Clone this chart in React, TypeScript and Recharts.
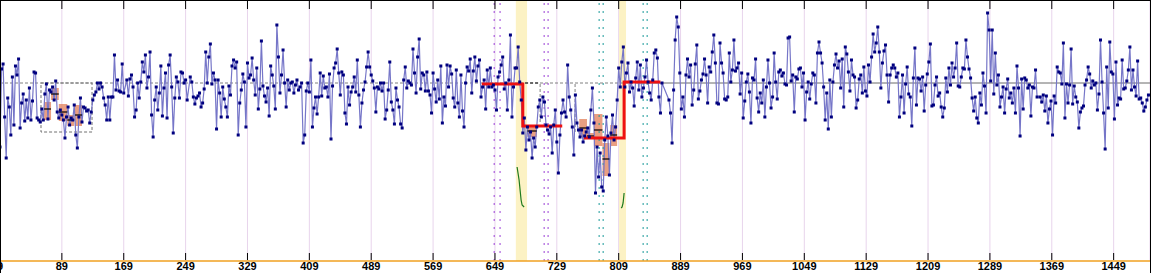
import React from 'react';
import { ComposedChart, Line, XAxis, YAxis, CartesianGrid, ReferenceArea, ReferenceLine } from 'recharts';

// x axis ticks (index numbers printed under the chart)
const tickValues = [9, 89, 169, 249, 329, 409, 489, 569, 649, 729, 809, 889, 969, 1049, 1129, 1209, 1289, 1369, 1449];

// blue series in pieces; each piece starts at segStarts[i], one point every 2 units
const segStarts = [9, 173, 255, 397, 541, 631, 874, 888, 1044, 1198, 1354];
const seg0 = [-64, 14, 19, -34, -75, -15, -24, -52, 6, -42, 17, 8, 24, -45, -20, -11, -38, -17, -35, -5, -37, -18, 11, 10, -35, -37, -39, -26, -37, -11, -1, -36, -7, -9, -4, -17, 2, -29, -35, -27, -32, -37, -55, -34, -24, -42, -35, -37, -22, -52, -65, -34, -15, -39, -24, -25, -28, -27, -40, -29, -17, -12, -9, 0, -6, 0, -4, -15, -22, -37, -14, -37, -14, -14, 28, -7, 3, -8, -9, 19, -10];
const seg1 = [3, -13, 4, 8, -4, -34, -27, 0, -15, 1, 21, 11, 28, -5, 6, 31, -32, -54, -17, -4, -27, -10, 17, -33, -5, 10, -35, 18, 28, -4, -50, -15, 6, 1, -15, 11, 10, 0, 3, -17];
const seg2 = [6, 1, -14, -21, -15, -13, -10, -24, -20, -6, 31, 0, 26, 39, -1, 10, 3, -46, 3, -10, -34, -4, -16, -24, -34, -3, -12, 17, 23, 15, 21, -52, -20, -7, 9, 1, -44, 20, 5, 8, 25, 3, -12, 15, -26, -6, 42, -3, -13, -19, -5, -33, 17, 8, -3, -26, 58, 26, -10, 8, 33, 0, -24, 3, -7, 0, 1, -10, -2, 3, -7];
const seg3 = [-4, 0, -60, -52, -8, 0, -9, 23, -44, -25, -14, -31, -14, 10, -13, 7, -5, -4, -14, 9, -56, -3, 15, 20, 34, 10, -12, 11, 8, -30, -41, -4, -22, -9, -4, 6, -9, 23, -12, -44, -20, -7, 1, 16, 31, 16, 8, 2, -5, -29, -4, -6, 0, -8, 0, -36, -27, -7, 21, -19, -27, -41, -5, -17, -24, -41, -45, 3, 16, -5, 2, 0];
const seg4 = [-2, 34, 10, -10, 26, 44, -6, 10, 8, -8, 11, -8, -12, -30, 10, -6, -19, 3, -16, 17, -40, -14, -23, 18, -4, 17, 9, -15, -24, 13, -20, -34, 8, -28, -44, 0, 16, 12, 24, -10, 12, 26, 2, 17, 23];
const seg5 = [-14, -4, 3, -26, 13, -4, 15, -4, -2, -7, -27, 6, 11, 18, 26, -6, 0, -27, 3, 48, -34, -4, 15, 15, 36, 1, -17, -50, -35, -67, -44, -57, -49, -75, -55, -64, -44, -24, -17, -34, -14, -19, -42, -47, -51, -44, -70, -42, -27, -59, -90, -52, -30, -17, -29, -34, 18, -14, -27, -44, -72, -12, -40, -47, -54, -47, -59, -53, -49, -45, -54, -27, -5, -40, -110, -64, -94, -70, -104, -108, -57, -34, -53, -92, -50, -32, -57, -44, -17, 15, -4, 21, 36, -4, 10, 20, -9, 1, -5, -23, 5, 21, -7, 18, -14, -5, 6, 23, 1, -10, -17, 3, 30, 33, 25, -14, -30, 0];
const seg6 = [-17, -30, -60, -7, 43, 66, 56];
const seg7 = [10, -26, -14, -34, 8, 24, 6, 18, -22, -7, 19, 38, -16, -8, 3, 9, 24, 8, -20, 16, 11, 31, 48, 20, -20, -21, 40, 20, 10, -16, -17, -14, 30, 1, 13, 43, 12, 15, 20, -11, 10, -35, -18, 1, 9, -9, -40, 5, 3, 24, -15, -29, -10, -20, 3, -34, -4, 23, 0, -25, -14, 30, 1, -16, 11, 13, 7, 10, -1, -2, 45, 46, 2, 8, -29, 6, 4, 14];
const seg8 = [15, -4, 10, -37, -9, 1, -16, -1, 10, 8, -20, 30, 41, 30, 20, -4, -37, -10, -46, 3, -34, 1, 18, 29, 15, 22, -5, 24, -24, 36, 29, 11, -8, 23, 8, 6, -25, -17, 4, 8, -10, 16, -8, -13, 18, 1, 26, 49, 31, 40, 56, 31, -5, 20, 32, 38, 8, -19, 8, 15, 18, 15, 6, 10, -34, -14, 8, -30, -1, 16, -11, -14, -43, 5, 35, -22, 5];
const seg9 = [4, -8, 6, -28, -2, 9, 21, 39, -23, -22, -2, 6, -13, -10, -24, -34, -25, 5, -9, 15, -2, 20, 6, 15, 40, -3, -4, 6, 15, 14, 43, 26, 14, 5, -15, -28, -14, -35, -40, -10, -22, 10, -3, -30, 70, 53, 2, 53, -11, 30, -2, 8, -24, -14, -4, -30, -6, 4, -15, -10, -20, -5, -30, 17, -5, -53, 4, -26, 5, 3, -5, -2, -33, -4, -5, 13, -14];
const seg10 = [-14, -19, -12, -28, -13, -40, -26, -18, -52, -13, -20, 16, 11, 10, -1, 40, -35, -1, -20, -2, 34, -21, -3, -14, -19, -45, -29, -25, -23, -2, 3, 16, 9, -5, 2, -2, 0, -27, -11, 43, 1, -30, -66, 16, -25, 41, 11, 9, -36, 21, -22, -15, -16, 23, -6, -5, 2, 13, 36, -7, 13, -4, -13, 22, -16, -15, -20, -28, -24, -17, -12];
const segments = [seg0, seg1, seg2, seg3, seg4, seg5, seg6, seg7, seg8, seg9, seg10];

// box marks: [xFrom, xTo, low, high, median]
const boxes: [number, number, number, number, number][] = [
  [66, 75, -37, -19, -26],
  [75, 85, -17, -5, -11],
  [85, 96, -38, -21, -29],
  [96, 105, -43, -32, -37],
  [106, 115, -43, -22, -32],
  [691, 703, -54, -42, -48],
  [758, 768, -54, -36, -45],
  [768, 777, -55, -50, -53],
  [777, 788, -63, -31, -47],
  [788, 797, -93, -60, -76],
  [798, 807, -63, -42, -52],
];

// level shifts (red), short green traces
const redStepA = [[632, -1], [685, -1], [685, -43], [736, -43]];
const redStepB = [[764, -55], [816, -55], [816, 1], [863, 1]];
const greenA = [[677.6, -84], [680.2, -97], [682.8, -117], [684.1, -122], [686.7, -124]];
const greenB = [[812.2, -125], [813.4, -124], [814.7, -120], [816, -110]];

const yellowBands = [[676, 690.5], [809.5, 818.5]];
const purpleLines = [648, 655.6, 712.6, 717.7];
const tealLines = [783.7, 788.9, 840.6, 845.8];

const data = segments.flatMap((vals, s) => vals.map((v, i) => ({ x: segStarts[s] + i * 2, v })));
const toPts = (arr: number[][]) => arr.map(([x, v]) => ({ x, v }));

const Marker = (p: any) => {
  if (p.cx == null || p.cy == null) return <g key={p.index} />;
  return <rect key={p.index} x={p.cx - 1.5} y={p.cy - 1.5} width={3} height={3} fill="#00007f" />;
};

const AxisTick = (p: any) => {
  const { x, y, payload } = p;
  return (
    <g>
      <line x1={x} y1={0} x2={x} y2={9} stroke="#000" strokeWidth={1} />
      <line x1={x} y1={y - 8} x2={x} y2={y - 1} stroke="#000" strokeWidth={1} />
      <text x={x} y={y + 9} textAnchor="middle" fontSize={11} fontWeight="bold" fontFamily="'Liberation Sans', Arial, sans-serif" fill="#000">
        {payload.value}
      </text>
    </g>
  );
};

export default function App() {
  return (
    <div style={{ position: 'absolute', left: 0, top: 0, width: 1151, height: 273, background: '#fff' }}>
      <ComposedChart width={1151} height={273} data={data} margin={{ top: 0, right: 1, bottom: 0, left: 0 }}>
        {yellowBands.map(([a, b], i) => (
          <ReferenceArea key={'yb' + i} x1={a} x2={b} fill="#fcf2c4" fillOpacity={1} stroke="none" />
        ))}
        <CartesianGrid horizontal={false} stroke="#e8d4ec" />
        {purpleLines.map((x, i) => (
          <ReferenceLine key={'pl' + i} x={x} stroke="#9a3fd6" strokeDasharray="2 6" />
        ))}
        {tealLines.map((x, i) => (
          <ReferenceLine key={'tl' + i} x={x} stroke="#1a9a9a" strokeDasharray="2 6" />
        ))}
        <XAxis
          type="number"
          dataKey="x"
          domain={[9, 1496]}
          ticks={tickValues}
          interval={0}
          allowDataOverflow
          height={12}
          tickSize={0}
          tickMargin={0}
          tickLine={false}
          axisLine={{ stroke: '#f0a020', strokeWidth: 1.5 }}
          tick={<AxisTick />}
        />
        <YAxis hide domain={[-178, 83]} allowDataOverflow />
        <ReferenceLine segment={[{ x: 9, y: 0 }, { x: 830, y: 0 }]} stroke="#808080" strokeDasharray="3 2" />
        <ReferenceLine segment={[{ x: 830, y: 0 }, { x: 1496, y: 0 }]} stroke="#6a6a6a" />
        <ReferenceLine segment={[{ x: 688, y: 0 }, { x: 705, y: 0 }]} stroke="#111" strokeDasharray="3 2" />
        <ReferenceArea x1={62} x2={128} y1={0} y2={-49} fill="none" stroke="#707070" strokeDasharray="3 2" />
        <ReferenceLine segment={[{ x: 707.4, y: -1 }, { x: 707.4, y: -39 }]} stroke="#808080" strokeDasharray="3 2" />
        <ReferenceLine segment={[{ x: 752.6, y: -1 }, { x: 752.6, y: -50 }]} stroke="#808080" strokeDasharray="3 2" />
        {boxes.map(([a, b, lo, hi], i) => (
          <ReferenceArea key={'bx' + i} x1={a} x2={b} y1={lo} y2={hi} fill="#e07a52" fillOpacity={0.72} stroke="none" />
        ))}
        <Line
          dataKey="v"
          stroke="#7676c8"
          strokeWidth={1.2}
          dot={Marker}
          activeDot={false}
          isAnimationActive={false}
        />
        {boxes.map(([a, b, , , med], i) => (
          <ReferenceLine key={'md' + i} segment={[{ x: a, y: med }, { x: b, y: med }]} stroke="#000" strokeWidth={1.2} />
        ))}
        <Line data={toPts(redStepA)} dataKey="v" stroke="#ee1111" strokeWidth={3} dot={false} activeDot={false} isAnimationActive={false} />
        <Line data={toPts(redStepB)} dataKey="v" stroke="#ee1111" strokeWidth={3} dot={false} activeDot={false} isAnimationActive={false} />
        <Line data={toPts(greenA)} dataKey="v" stroke="#1d7a1d" strokeWidth={1.2} dot={false} activeDot={false} isAnimationActive={false} />
        <Line data={toPts(greenB)} dataKey="v" stroke="#1d7a1d" strokeWidth={1.2} dot={false} activeDot={false} isAnimationActive={false} />
      </ComposedChart>
      <div
        style={{
          position: 'absolute', left: 0, top: 0, width: 1151, height: 273, boxSizing: 'border-box',
          borderLeft: '1px solid #000', borderTop: '1px solid #000', borderRight: '1px solid #000', pointerEvents: 'none',
        }}
      />
    </div>
  );
}
